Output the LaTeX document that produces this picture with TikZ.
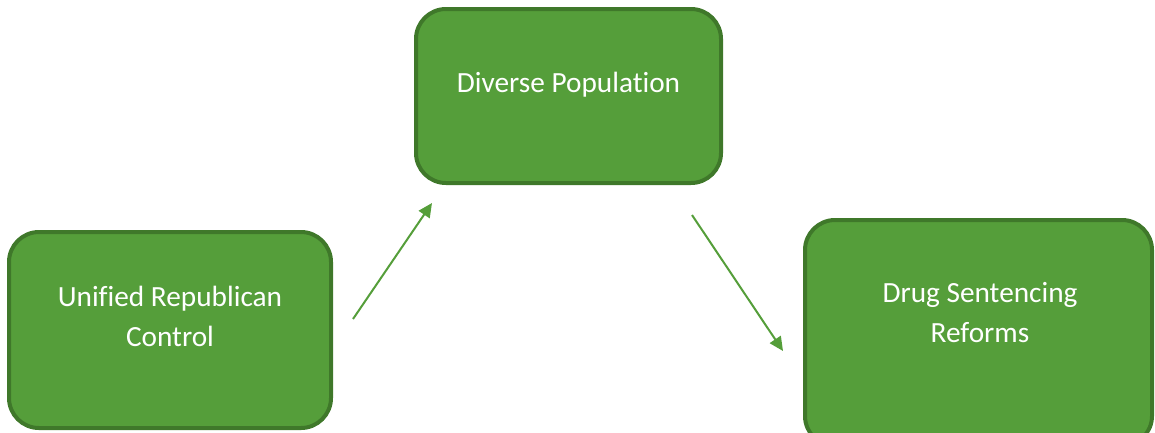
\documentclass[tikz,border=0pt]{standalone}
\usepackage{fontspec}
\setmainfont[Ligatures={NoCommon}]{Carlito}
\usetikzlibrary{arrows.meta}
\definecolor{boxfill}{HTML}{559E3A}
\definecolor{boxline}{HTML}{3F782A}
\definecolor{arrowcol}{HTML}{559E3A}
\begin{document}
\begin{tikzpicture}[x=1pt,y=-1pt,
  box/.style={draw=boxline, line width=4pt, fill=boxfill, rounded corners=30pt, inner sep=0pt},
  boxtext/.style={text=white, font=\fontsize{29.3}{40}\selectfont, align=center, inner sep=0pt},
  conn/.style={draw=arrowcol, line width=2pt, -{Triangle[length=14pt,width=13pt]}}]
\useasboundingbox (0,0) rectangle (1155,432);
\node[box, minimum width=305pt, minimum height=174pt] (top) at (568.5,96) {};
\node[box, minimum width=322pt, minimum height=196pt] (left) at (170,330) {};
\node[box, minimum width=347pt, minimum height=226pt] (right) at (978.5,333) {};
\node[boxtext] (toptext) at (568.5,85) {Diverse Population};
\node[boxtext] (lefttext) at (170,316) {Unified Republican\\Control};
\node[boxtext] (righttext) at (980,313) {Drug Sentencing\\Reforms};
\coordinate (a1s) at (353,319);
\coordinate (a1e) at (432,203);
\coordinate (a2s) at (692,215);
\coordinate (a2e) at (783,351);
\draw[conn] (a1s) -- (a1e);
\draw[conn] (a2s) -- (a2e);
\end{tikzpicture}
\end{document}
